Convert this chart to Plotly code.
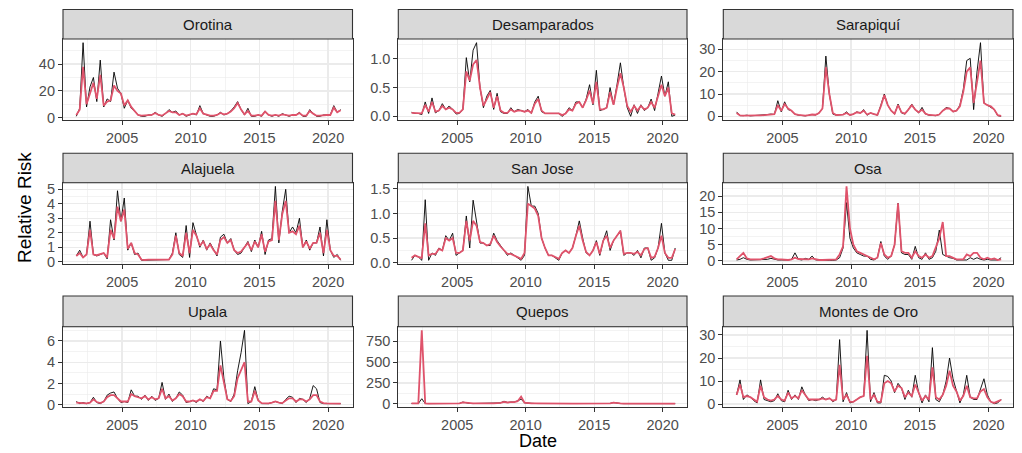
import plotly.graph_objects as go
import pandas as pd

# ---------------- data (quarterly samples) ----------------
DATES = pd.date_range("2001-09-01", periods=78, freq="3MS")

REGIONS = ["Orotina", "Desamparados", "Sarapiquí",
           "Alajuela", "San Jose", "Osa",
           "Upala", "Quepos", "Montes de Oro"]

OROTINA_OBS = [1, 7,
               56, 8, 23, 30, 12, 43, 8, 14, 12, 34, 22, 18, 7, 13, 7, 5,
               2, 1, 1, 2, 2, 4, 2, 1, 3, 6, 4, 5, 2, 3, 1, 2,
               3, 2, 9, 3, 2, 1, 1, 2, 4, 2, 3, 5, 8, 12, 6, 2,
               7, 1, 1, 2, 1, 5, 2, 1, 2, 1, 3, 2, 1, 2, 2, 4,
               1, 1, 6, 3, 1, 1, 2, 2, 2, 9, 4, 6]
OROTINA_FIT = [2, 6,
               38, 10, 18, 26, 14, 32, 9, 12, 13, 24, 20, 18, 9, 13, 8, 5,
               2, 1.5, 1.5, 2, 2, 3.5, 2, 1.5, 3, 5, 4, 4, 2, 3, 1.5, 2,
               3, 2.5, 7, 3, 2, 1.5, 1.5, 2, 3.5, 2.5, 3, 4.5, 7, 11, 6, 2.5,
               5, 1.5, 1.5, 2, 1.5, 4.5, 2, 1.5, 2, 1.5, 2.5, 2, 1.5, 2, 2, 3.5,
               1.5, 1.5, 5, 3, 1.5, 1.5, 2, 2, 2, 7.5, 4, 5.5]

DESAMP_OBS = [0.07, 0.05,
              0.05, 0.03, 0.25, 0.05, 0.32, 0.06, 0.10, 0.22, 0.12, 0.18, 0.12, 0.04,
              0.05, 0.12, 1.02, 0.60, 1.15, 1.28, 0.50, 0.15, 0.35, 0.45, 0.12, 0.40,
              0.08, 0.05, 0.05, 0.15, 0.08, 0.12, 0.10, 0.08, 0.12, 0.05, 0.25, 0.35,
              0.08, 0.05, 0.05, 0.05, 0.04, 0.05, 0.00, 0.05, 0.15, 0.10, 0.25, 0.25,
              0.15, 0.30, 0.55, 0.20, 0.80, 0.10, 0.12, 0.15, 0.50, 0.20, 0.55, 0.93,
              0.50, 0.15, 0.00, 0.20, 0.05, 0.20, 0.10, 0.15, 0.30, 0.10, 0.40, 0.70,
              0.35, 0.60, 0.00, 0.02]
DESAMP_FIT = [0.06, 0.06,
              0.05, 0.05, 0.20, 0.08, 0.25, 0.08, 0.10, 0.18, 0.12, 0.15, 0.12, 0.06,
              0.06, 0.12, 0.78, 0.62, 0.90, 0.98, 0.50, 0.18, 0.30, 0.42, 0.15, 0.35,
              0.10, 0.06, 0.06, 0.12, 0.08, 0.10, 0.10, 0.08, 0.10, 0.06, 0.22, 0.30,
              0.10, 0.05, 0.05, 0.05, 0.05, 0.05, 0.02, 0.05, 0.12, 0.10, 0.22, 0.25,
              0.15, 0.28, 0.45, 0.22, 0.60, 0.12, 0.12, 0.15, 0.42, 0.20, 0.50, 0.75,
              0.50, 0.18, 0.08, 0.18, 0.10, 0.18, 0.12, 0.15, 0.25, 0.15, 0.35, 0.55,
              0.35, 0.50, 0.05, 0.03]

SARAPIQUI_OBS = [2, 0.3,
                 0.3, 0.5, 0.2, 0.3, 0.4, 0.3, 0.5, 0.8, 1, 0.8, 7, 2,
                 6.5, 3, 2.5, 1, 0.5, 0.3, 0.2, 0.5, 0.8, 0.6, 1.5, 3.5,
                 27, 10, 1, 0.5, 0.5, 0.8, 2, 0.5, 1, 2, 1.5, 3,
                 0.5, 1.5, 1, 0.5, 5, 10, 5, 2.5, 1, 5.5, 1.5, 1,
                 3, 5.5, 3, 1.5, 4, 1, 0.5, 0.3, 0.3, 0.8, 2.5, 4,
                 3.5, 2, 2.5, 5, 12, 25, 26, 3, 20, 33, 6, 5,
                 4, 3, 0.3, 0]
SARAPIQUI_FIT = [1.5, 0.4,
                 0.3, 0.4, 0.3, 0.3, 0.4, 0.4, 0.5, 0.8, 1, 1, 5, 2.5,
                 5.5, 3.5, 2.5, 1, 0.6, 0.4, 0.3, 0.5, 0.8, 0.7, 1.5, 3.5,
                 22, 10, 1.5, 0.6, 0.6, 0.8, 1.5, 0.6, 1, 1.8, 1.5, 2.5,
                 0.8, 1.5, 1, 0.6, 4.5, 9.5, 5, 2.5, 1.2, 5, 1.8, 1.2,
                 3, 5, 3, 1.8, 3, 1.2, 0.6, 0.4, 0.4, 0.8, 2.5, 3.5,
                 3.5, 2.2, 2.5, 4.5, 11, 20, 22, 6, 15, 25, 6, 5,
                 4.5, 3, 0.5, 0.2]

ALAJUELA_OBS = [0.4, 0.8,
                0.3, 0.5, 2.8, 0.5, 0.4, 0.5, 0.6, 0.2, 2.9, 1.5, 4.9, 2.8,
                4.4, 0.8, 1.3, 0.5, 0.6, 0.1, 0.1, 0.15, 0.15, 0.1, 0.1, 0.15,
                0.1, 0.15, 0.6, 2.0, 0.5, 0.3, 2.5, 0.3, 2.7, 1.8, 1.0, 1.5,
                0.8, 1.3, 0.8, 0.4, 1.7, 1.9, 1.3, 1.6, 0.8, 0.5, 0.6, 1.0,
                1.4, 0.7, 1.5, 1.0, 2.1, 0.5, 1.5, 1.6, 5.2, 1.3, 3.5, 5.0,
                2.0, 2.4, 2.0, 3.0, 1.0, 1.5, 0.8, 1.3, 1.3, 2.4, 0.4, 2.9,
                0.8, 0.3, 0.5, 0.1]
ALAJUELA_FIT = [0.4, 0.6,
                0.3, 0.5, 2.2, 0.5, 0.45, 0.5, 0.6, 0.3, 2.2, 1.6, 3.8, 2.8,
                3.6, 0.9, 1.3, 0.6, 0.5, 0.15, 0.12, 0.15, 0.15, 0.12, 0.12, 0.15,
                0.12, 0.15, 0.5, 1.8, 0.6, 0.4, 2.0, 0.6, 2.2, 1.8, 1.1, 1.4,
                0.9, 1.2, 0.8, 0.5, 1.5, 1.7, 1.3, 1.5, 0.8, 0.6, 0.7, 1.0,
                1.3, 0.8, 1.4, 1.0, 1.9, 0.7, 1.4, 1.5, 4.2, 1.5, 3.3, 4.2,
                2.0, 2.1, 1.9, 2.5, 1.0, 1.4, 0.9, 1.3, 1.3, 2.0, 0.6, 2.2,
                0.8, 0.4, 0.4, 0.15]

SANJOSE_OBS = [0.05, 0.15,
               0.12, 0.05, 1.28, 0.05, 0.20, 0.15, 0.30, 0.25, 0.55, 0.45, 0.60, 0.15,
               0.20, 0.25, 0.95, 0.30, 1.27, 0.85, 0.40, 0.40, 0.35, 0.35, 0.60, 0.45,
               0.35, 0.25, 0.15, 0.20, 0.15, 0.10, 0.05, 0.15, 1.55, 1.15, 1.15, 1.00,
               0.50, 0.30, 0.15, 0.15, 0.10, 0.05, 0.20, 0.25, 0.20, 0.30, 0.55, 0.85,
               0.50, 0.20, 0.15, 0.25, 0.45, 0.15, 0.45, 0.65, 0.25, 0.45, 0.55, 0.65,
               0.15, 0.20, 0.20, 0.15, 0.25, 0.10, 0.30, 0.30, 0.05, 0.10, 0.30, 0.80,
               0.20, 0.05, 0.05, 0.30]
SANJOSE_FIT = [0.10, 0.15,
               0.12, 0.10, 0.80, 0.15, 0.18, 0.18, 0.28, 0.25, 0.50, 0.45, 0.50, 0.20,
               0.20, 0.25, 0.85, 0.45, 0.85, 0.75, 0.42, 0.40, 0.35, 0.38, 0.55, 0.42,
               0.33, 0.25, 0.18, 0.18, 0.15, 0.12, 0.08, 0.20, 1.20, 1.15, 1.10, 0.95,
               0.50, 0.30, 0.15, 0.15, 0.12, 0.08, 0.20, 0.25, 0.20, 0.30, 0.55, 0.75,
               0.45, 0.22, 0.15, 0.25, 0.42, 0.18, 0.45, 0.55, 0.30, 0.45, 0.55, 0.65,
               0.18, 0.20, 0.20, 0.18, 0.22, 0.15, 0.28, 0.30, 0.10, 0.12, 0.30, 0.55,
               0.20, 0.10, 0.10, 0.28]

OSA_OBS = [0.3, 0.5,
           1.0, 0.5, 0.3, 0.3, 0.3, 0.3, 0.3, 0.5, 0.8, 0.5, 0.3, 0.3,
           0.2, 0.3, 0.5, 2.5, 0.5, 0.3, 0.8, 0.5, 1.5, 0.3, 0.3, 0.2,
           0.2, 0.2, 0.2, 0.3, 1, 4, 18, 7, 4, 2.5, 2, 1.5,
           1.5, 0.5, 0.3, 1, 6, 1.5, 0.5, 1.5, 5, 17.8, 2.5, 2,
           2, 0.5, 4.5, 1, 0.5, 2.5, 0.5, 1, 3, 9.5, 2, 1.5,
           1, 0.8, 0.3, 0.3, 0.3, 0.3, 1, 0.5, 1, 0.5, 0.3, 0.5,
           0.3, 0.3, 0.3, 1]
OSA_FIT = [0.5, 1.5,
           2.5, 0.8, 0.5, 0.5, 0.5, 0.5, 0.8, 1.2, 1.5, 0.8, 0.5, 0.5,
           0.3, 0.3, 0.5, 1.0, 0.6, 0.5, 0.6, 0.5, 0.8, 0.5, 0.3, 0.3,
           0.3, 0.3, 0.3, 0.5, 2, 4.5, 23, 10, 5, 3, 2.5, 2,
           1.5, 0.8, 0.5, 1, 5.5, 2, 1, 1.5, 5, 17.8, 3, 2.5,
           2.5, 1, 3, 1.5, 1, 2, 1, 1.5, 4, 7, 12, 1.5,
           1.5, 1, 0.5, 0.5, 0.5, 2, 1.5, 2.5, 2.5, 1, 0.5, 1,
           0.5, 0.8, 0.3, 0.5]

UPALA_OBS = [0.3, 0.1,
             0.2, 0.1, 0.2, 0.7, 0.2, 0.1, 0.3, 0.9, 1.1, 1.2, 0.6, 0.2,
             0.3, 0.2, 1.4, 0.8, 0.8, 0.5, 0.9, 0.4, 0.8, 0.4, 0.6, 2.1,
             0.5, 1.0, 0.3, 0.6, 1.2, 0.9, 0.2, 0.3, 0.4, 0.2, 0.5, 0.3,
             0.8, 0.6, 1.5, 1.4, 6.0, 2.5, 0.5, 0.3, 1.0, 3.2, 4.9, 7.0,
             0.1, 0.3, 1.7, 0.4, 0.1, 0.1, 0.1, 0.2, 0.3, 0.2, 0.1, 0.5,
             0.8, 0.7, 0.2, 0.6, 0.5, 0.2, 0.6, 1.8, 1.5, 0.2, 0.1, 0.1,
             0.1, 0.15, 0.1, 0.1]
UPALA_FIT = [0.2, 0.15,
             0.15, 0.12, 0.2, 0.5, 0.25, 0.15, 0.3, 0.7, 0.9, 0.9, 0.6, 0.3,
             0.3, 0.3, 1.0, 0.8, 0.7, 0.6, 0.8, 0.5, 0.7, 0.5, 0.6, 1.5,
             0.6, 0.8, 0.4, 0.6, 1.0, 0.8, 0.3, 0.3, 0.4, 0.3, 0.5, 0.35,
             0.7, 0.6, 1.3, 1.3, 3.7, 2.0, 0.5, 0.35, 0.8, 2.5, 3.3, 4.0,
             0.3, 0.3, 1.3, 0.4, 0.15, 0.15, 0.12, 0.2, 0.3, 0.2, 0.15, 0.4,
             0.6, 0.6, 0.3, 0.5, 0.5, 0.3, 0.5, 0.9, 0.9, 0.3, 0.15, 0.12,
             0.12, 0.15, 0.12, 0.1]

QUEPOS_OBS = [2, 2,
              2, 60, 2, 1, 1, 1, 1, 1, 1, 2, 2, 1,
              3, 20, 8, 3, 2, 2, 5, 2, 2, 3, 2, 2,
              10, 30, 15, 20, 20, 35, 55, 10, 5, 5, 3, 2,
              2, 2, 2, 2, 2, 2, 1, 1, 1, 1, 1, 1,
              1, 2, 1, 1, 1, 1, 2, 2, 3, 15, 5, 2,
              1, 1, 1, 1, 1, 1, 1, 1, 1, 1, 1, 1,
              1, 1, 1, 1]
QUEPOS_FIT = [3, 3,
              5, 880, 5, 2, 2, 2, 2, 2, 2, 3, 3, 2,
              4, 15, 8, 4, 3, 3, 5, 3, 3, 3, 3, 3,
              10, 22, 15, 18, 18, 30, 85, 12, 6, 5, 4, 3,
              3, 3, 3, 2, 2, 2, 2, 2, 2, 2, 2, 2,
              2, 3, 2, 2, 2, 2, 3, 3, 4, 12, 5, 3,
              2, 2, 2, 2, 2, 2, 2, 2, 2, 2, 2, 2,
              2, 2, 2, 2]

MONTES_OBS = [4, 10.5,
              2, 4, 3, 1.5, 0.5, 10.5, 2, 1.5, 1, 1.5, 4.5, 1.5,
              1, 6, 2, 4, 2, 7.5, 4, 1.5, 2, 1.5, 2, 3,
              2, 2.5, 1, 2, 28, 1, 5, 0.5, 1, 2, 3, 3.5,
              32, 1, 5, 0.5, 0.5, 12.5, 12, 10, 5, 9, 7, 2,
              6, 3, 12.5, 5, 0.5, 4, 1, 24.5, 2, 1, 4, 10,
              20, 11, 6, 0.5, 4, 12.5, 3, 2, 2, 7, 11, 4,
              1, 0.2, 0.5, 2]
MONTES_FIT = [4, 8.5,
              3, 3.5, 3, 2, 1, 8, 3, 2, 1.5, 2, 3.5, 2,
              1.5, 5, 2.5, 3.5, 2.5, 6, 4, 2, 2, 2, 2, 2.5,
              2, 2.5, 1.5, 2, 17, 2, 4, 1, 1, 2, 3, 3.5,
              21, 2, 4, 1, 1, 9, 10, 9, 5.5, 8, 7, 3,
              5, 3.5, 8.5, 5, 1.5, 3.5, 2, 16, 3, 2, 4, 8,
              14.5, 8, 5.5, 1.5, 3.5, 8, 3, 2.5, 2.5, 5.5, 6.5, 3,
              1, 0.5, 1, 1.8]

OBSERVED = [OROTINA_OBS, DESAMP_OBS, SARAPIQUI_OBS, ALAJUELA_OBS, SANJOSE_OBS,
            OSA_OBS, UPALA_OBS, QUEPOS_OBS, MONTES_OBS]
FITTED = [OROTINA_FIT, DESAMP_FIT, SARAPIQUI_FIT, ALAJUELA_FIT, SANJOSE_FIT,
          OSA_FIT, UPALA_FIT, QUEPOS_FIT, MONTES_FIT]

Y_DTICK = [20, 0.5, 10, 1, 0.5, 5, 2, 250, 10]
Y_FORMAT = ["d", ".1f", "d", "d", ".1f", "d", "d", "d", "d"]

# ---------------- layout geometry (pixels) ----------------
W, H = 1022, 453
COLS_PX = [(63, 352.5), (398.3, 687), (723.3, 1013)]
ROWS_PX = [(9.5, 39, 120), (153.3, 182.7, 264), (296, 326.7, 407.3)]
X_RANGE = ["2000-09-13", "2021-10-12"]

FONT = "Liberation Sans, Arial, sans-serif"
GRID = "#EBEBEB"
DARK = "#333333"
PINK = "#DF536B"
TICK_SIZE = 14.5

fig = go.Figure()
layout = dict(
    width=W, height=H,
    margin=dict(l=0, r=0, t=0, b=0),
    paper_bgcolor="white", plot_bgcolor="white",
    showlegend=False, hovermode=False,
    font=dict(family=FONT),
    shapes=[], annotations=[],
)

for k, name in enumerate(REGIONS):
    r, c = divmod(k, 3)
    x0, x1 = COLS_PX[c]
    st, pt, pb = ROWS_PX[r]
    sfx = "" if k == 0 else str(k + 1)
    obs, fit = OBSERVED[k], FITTED[k]
    assert len(obs) == len(DATES) and len(fit) == len(DATES), name

    fig.add_trace(go.Scatter(x=DATES, y=obs, mode="lines",
                             line=dict(color="black", width=0.9),
                             xaxis="x" + sfx, yaxis="y" + sfx))
    fig.add_trace(go.Scatter(x=DATES, y=fit, mode="lines",
                             line=dict(color=PINK, width=1.8),
                             xaxis="x" + sfx, yaxis="y" + sfx))

    lo = min(min(obs), min(fit))
    hi = max(max(obs), max(fit))
    pad = 0.05 * (hi - lo)

    layout["xaxis" + sfx] = dict(
        domain=[x0 / W, x1 / W], anchor="y" + sfx, type="date",
        range=X_RANGE, tick0="2000-01-01", dtick="M60", tickformat="%Y",
        showgrid=True, gridcolor=GRID, gridwidth=1.3,
        minor=dict(dtick="M30", tick0="2000-01-01", showgrid=True,
                   gridcolor=GRID, gridwidth=0.6),
        ticks="outside", ticklen=4, tickwidth=1, tickcolor=DARK,
        tickfont=dict(size=TICK_SIZE, color="#4D4D4D", family=FONT),
        showline=True, mirror=True, linecolor=DARK, linewidth=1.1,
        zeroline=False, automargin=False, fixedrange=True,
    )
    layout["yaxis" + sfx] = dict(
        domain=[1 - pb / H, 1 - pt / H], anchor="x" + sfx,
        range=[lo - pad, hi + pad], tick0=0, dtick=Y_DTICK[k],
        tickformat=Y_FORMAT[k],
        showgrid=True, gridcolor=GRID, gridwidth=1.3,
        minor=dict(dtick=Y_DTICK[k] / 2, tick0=0, showgrid=True,
                   gridcolor=GRID, gridwidth=0.6),
        ticks="outside", ticklen=4, tickwidth=1, tickcolor=DARK,
        tickfont=dict(size=TICK_SIZE, color="#4D4D4D", family=FONT),
        showline=True, mirror=True, linecolor=DARK, linewidth=1.1,
        zeroline=False, automargin=False, fixedrange=True,
    )

    # facet strip
    layout["shapes"].append(dict(
        type="rect", xref="paper", yref="paper",
        x0=x0 / W, x1=x1 / W, y0=1 - pt / H, y1=1 - st / H,
        fillcolor="#D9D9D9", line=dict(color=DARK, width=1.1), layer="above",
    ))
    layout["annotations"].append(dict(
        text=name, xref="paper", yref="paper",
        x=(x0 + x1) / 2 / W, y=1 - (st + pt) / 2 / H,
        xanchor="center", yanchor="middle", showarrow=False,
        font=dict(size=15, color="#1A1A1A", family=FONT),
    ))

layout["annotations"].append(dict(
    text="Relative Risk", xref="paper", yref="paper",
    x=24 / W, y=1 - 208 / H, textangle=-90,
    xanchor="center", yanchor="middle", showarrow=False,
    font=dict(size=19, color="black", family=FONT),
))
layout["annotations"].append(dict(
    text="Date", xref="paper", yref="paper",
    x=538 / W, y=0.002, borderpad=0,
    xanchor="center", yanchor="bottom", showarrow=False,
    font=dict(size=18, color="black", family=FONT),
))

fig.update_layout(**layout)
fig.write_html(
    "out.html",
    config={"displayModeBar": False, "staticPlot": True},
    post_script="document.body.style.margin='0';document.body.style.overflow='hidden';",
)
